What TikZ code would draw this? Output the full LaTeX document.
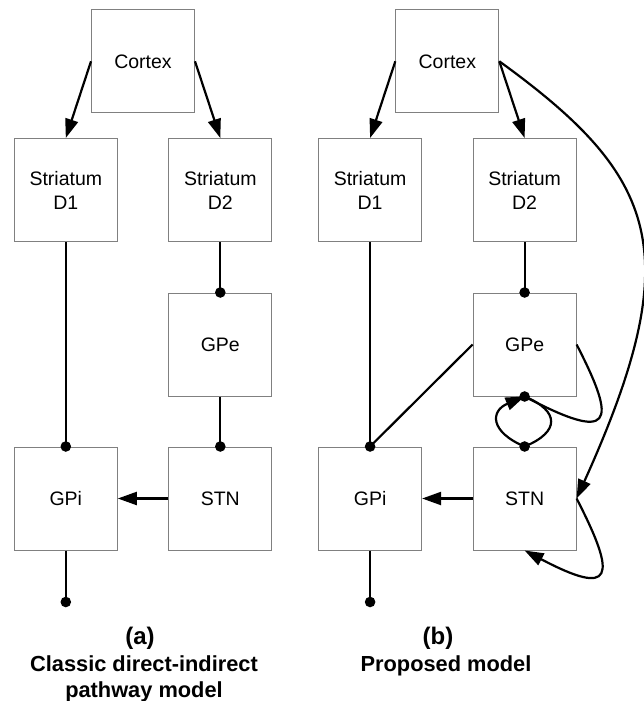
\documentclass[tikz,border=0pt]{standalone}
\usepackage{fontspec}
\setmainfont{Liberation Sans}
\usetikzlibrary{arrows.meta}
\begin{document}
\begin{tikzpicture}[x=1pt,y=-1pt,
  box/.style={draw=black!50, line width=1pt, minimum width=103pt, minimum height=103pt,
    inner sep=0pt, align=center, font=\fontsize{19.5}{24}\selectfont},
  conn/.style={line width=2.2pt, black},
  exc/.style={conn, -{Triangle[length=19pt,width=13pt]}},
  panellabel/.style={anchor=base, inner sep=0pt, font=\fontsize{24}{28}\selectfont\bfseries},
  caption/.style={anchor=base, inner sep=0pt, font=\fontsize{21.8}{26}\selectfont\bfseries},
  dotr/.style={fill=black}
]
\useasboundingbox (0,0) rectangle (643,701);

% ---------- panel (a) ----------
\node[box] (CxA)  at (143,61.3)    {Cortex};
\node[box] (D1A)  at (65.8,190)    {Striatum\\D1};
\node[box] (D2A)  at (220.3,190)   {Striatum\\D2};
\node[box] (GPeA) at (220.3,344.5) {GPe};
\node[box] (GPiA) at (65.8,498.5)  {GPi};
\node[box] (STNA) at (220.3,498.5) {STN};
\coordinate (outA) at (65.8,602);

\draw[exc] (CxA.west) -- (D1A.north);
\draw[exc] (CxA.east) -- (D2A.north);
\draw[conn] (D1A.south) -- (GPiA.north);
\draw[conn] (D2A.south) -- (GPeA.north);
\draw[conn] (GPeA.south) -- (STNA.north);
\draw[exc] (STNA.west) -- (GPiA.east);
\draw[conn] (GPiA.south) -- (outA);
\fill[dotr] (GPiA.north) circle (5.3pt);
\fill[dotr] (GPeA.north) circle (5.3pt);
\fill[dotr] (STNA.north) circle (5.3pt);
\fill[dotr] (outA) circle (5.3pt);

\node[panellabel] (labA) at (140,644) {(a)};
\node[caption] (capA1) at (144,671) {Classic direct-indirect};
\node[caption] (capA2) at (144,697) {pathway model};

% ---------- panel (b) ----------
\node[box] (CxB)  at (447.3,61.3)  {Cortex};
\node[box] (D1B)  at (370.1,190)   {Striatum\\D1};
\node[box] (D2B)  at (524.6,190)   {Striatum\\D2};
\node[box] (GPeB) at (524.6,344.5) {GPe};
\node[box] (GPiB) at (370.1,498.5) {GPi};
\node[box] (STNB) at (524.6,498.5) {STN};
\coordinate (outB) at (370.1,602);

\draw[exc] (CxB.west) -- (D1B.north);
\draw[exc] (CxB.east) -- (D2B.north);
\draw[conn] (D1B.south) -- (GPiB.north);
\draw[conn] (D2B.south) -- (GPeB.north);
\draw[conn] (GPeB.west) -- (GPiB.north);
\draw[exc] (STNB.west) -- (GPiB.east);
\draw[conn] (GPiB.south) -- (outB);
% cortex -> STN (hyperdirect)
\draw[exc] (CxB.east) .. controls (659,177) and (688,252) .. (STNB.east);
% GPe <-> STN loop
\draw[exc] (STNB.north) .. controls (490,432) and (490,411) .. (GPeB.south);
\draw[conn] (STNB.north) .. controls (560,432) and (560,411) .. (GPeB.south);
% GPe self loop
\draw[conn] (GPeB.east) .. controls (618,425) and (613,443) .. (GPeB.south);
% STN self loop
\draw[exc] (STNB.east) .. controls (618,579) and (613,597) .. (STNB.south);
\fill[dotr] (GPiB.north) circle (5.3pt);
\fill[dotr] (GPeB.north) circle (5.3pt);
\fill[dotr] (GPeB.south) circle (5.3pt);
\fill[dotr] (STNB.north) circle (5.3pt);
\fill[dotr] (outB) circle (5.3pt);

\node[panellabel] (labB) at (438,644) {(b)};
\node[caption] (capB1) at (446,671) {Proposed model};
\end{tikzpicture}
\end{document}
